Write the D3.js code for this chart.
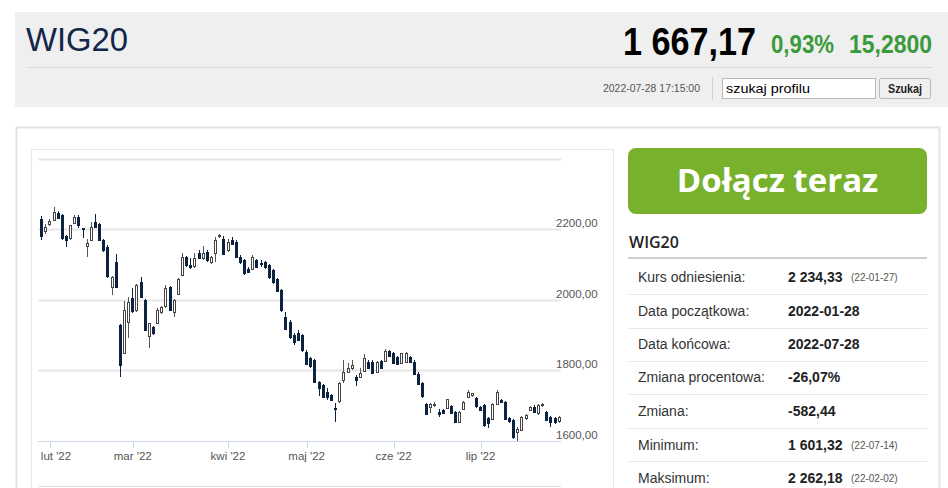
<!DOCTYPE html>
<html><head><meta charset="utf-8">
<script src="https://cdn.jsdelivr.net/npm/d3@7"></script>
<style>
html,body{margin:0;padding:0;background:#fff;}
svg{display:block;font-family:"Liberation Sans",Arial,sans-serif;}
</style></head>
<body><svg id="c" width="948" height="488"></svg>
<script>
const dates = [
"2022-01-28","2022-01-31",
"2022-02-01","2022-02-02","2022-02-03","2022-02-04","2022-02-07","2022-02-08","2022-02-09","2022-02-10","2022-02-11","2022-02-14","2022-02-15","2022-02-16","2022-02-17","2022-02-18","2022-02-21","2022-02-22","2022-02-23","2022-02-24","2022-02-25","2022-02-28",
"2022-03-01","2022-03-02","2022-03-03","2022-03-04","2022-03-07","2022-03-08","2022-03-09","2022-03-10","2022-03-11","2022-03-14","2022-03-15","2022-03-16","2022-03-17","2022-03-18","2022-03-21","2022-03-22","2022-03-23","2022-03-24","2022-03-25","2022-03-28","2022-03-29","2022-03-30","2022-03-31",
"2022-04-01","2022-04-04","2022-04-05","2022-04-06","2022-04-07","2022-04-08","2022-04-11","2022-04-12","2022-04-13","2022-04-14","2022-04-19","2022-04-20","2022-04-21","2022-04-22","2022-04-25","2022-04-26","2022-04-27","2022-04-28","2022-04-29",
"2022-05-02","2022-05-04","2022-05-05","2022-05-06","2022-05-09","2022-05-10","2022-05-11","2022-05-12","2022-05-13","2022-05-16","2022-05-17","2022-05-18","2022-05-19","2022-05-20","2022-05-23","2022-05-24","2022-05-25","2022-05-26","2022-05-27","2022-05-30","2022-05-31",
"2022-06-01","2022-06-02","2022-06-03","2022-06-06","2022-06-07","2022-06-08","2022-06-09","2022-06-10","2022-06-13","2022-06-14","2022-06-15","2022-06-17","2022-06-20","2022-06-21","2022-06-22","2022-06-23","2022-06-24","2022-06-27","2022-06-28","2022-06-29","2022-06-30",
"2022-07-01","2022-07-04","2022-07-05","2022-07-06","2022-07-07","2022-07-08","2022-07-11","2022-07-12","2022-07-13","2022-07-14","2022-07-15","2022-07-18","2022-07-19","2022-07-20","2022-07-21","2022-07-22","2022-07-25","2022-07-26","2022-07-27","2022-07-28"];

const open = [2230,2195,2214,2227,2246,2239,2180,2173,2216,2233,2202,2152,2169,2220,2214,2169,2148,2037,2107,1928,1848,1937,
2004,1971,2051,1999,1895,1923,1933,1966,1980,2037,1966,2018,2070,2120,2098,2093,2131,2117,2136,2107,2131,2180,2173,
2140,2169,2164,2122,2112,2088,2088,2112,2105,2107,2098,2084,2060,2027,1952,1938,1900,1905,1900,
1853,1834,1829,1768,1758,1740,1730,1693,1711,1773,1796,1806,1782,1782,1796,1824,1824,1796,1827,1827,1856,
1848,1839,1820,1824,1839,1825,1791,1763,1706,1697,1702,1683,1688,1692,1699,1683,1655,1692,1725,1730,1721,
1697,1702,1664,1664,1706,1716,1711,1664,1659,1625,1631,1664,1688,1697,1678,1700,1683,1669,1664,1655];
const high = [2236,2215,2228,2262.18,2250,2242,2183,2213,2240,2240,2203,2173,2220,2244,2218,2172,2155,2066,2129,1930,1997,2007,
2032,2045,2065,2002,1935,1925,1976,1983,2041,2040,2002,2062,2133,2125,2117,2131,2140,2152,2140,2125,2178,2187,2180,
2173,2178,2168,2126,2115,2092,2126,2116,2112,2110,2101,2088,2063,2030,1966,1942,1905,1914,1903,
1857,1838,1832,1770,1762,1749,1734,1707,1768,1829,1820,1829,1787,1806,1845,1828,1828,1827,1830,1860,1859,
1851,1842,1850,1853,1842,1829,1794,1766,1709,1708,1711,1692,1692,1720,1702,1686,1686,1713,1744,1737,1724,
1700,1705,1667,1708,1744,1720,1714,1667,1662,1640,1672,1676,1700,1703,1704,1708,1686,1672,1667,1670];
const low = [2169,2187,2210,2222,2228,2170,2150,2170,2214,2202,2176,2122,2167,2203,2165,2136,2062,2013,2035,1782,1845,1891,
1962,1965,2005,1912,1862,1900,1930,1960,1978,1968,1952,2015,2068,2093,2088,2090,2115,2112,2108,2102,2107,2175,2128,
2136,2155,2118,2100,2070,2075,2084,2090,2093,2088,2060,2046,2022,1966,1915,1890,1872,1882,1852,
1815,1806,1765,1728,1722,1716,1712,1655,1708,1763,1792,1800,1756,1778,1794,1803,1790,1793,1805,1825,1840,
1817,1817,1818,1822,1821,1788,1760,1722,1675,1678,1695,1669,1677,1690,1677,1652,1652,1690,1722,1725,1694,
1687,1640,1636,1661,1703,1708,1661,1650,1606,1601.32,1628,1660,1685,1680,1675,1697,1656,1640,1648,1650];
const close = [2183,2206,2223,2249,2233,2173,2169,2211,2233,2211,2200,2161,2206,2206,2170,2140,2065,2065,2037,1815,1971,1994,
1966,2041,2008,1914,1933,1905,1971,1980,2032,1971,1999,2060,2122,2098,2091,2117,2117,2131,2112,2122,2169,2182,2131,
2164,2159,2122,2107,2074,2079,2122,2093,2101,2093,2065,2051,2027,1971,1919,1895,1881,1886,1857,
1820,1810,1768,1750,1725,1725,1716,1691,1763,1796,1806,1815,1774,1792,1834,1806,1793,1824,1808,1856,1843,
1820,1820,1848,1850,1824,1791,1763,1725,1678,1706,1706,1676,1680,1718,1680,1655,1683,1711,1739,1735,1697,
1689,1645,1650,1706,1739,1711,1664,1655,1612,1634,1669,1673,1697,1683,1702,1704,1659,1655,1651.89,1667.17];

const gridValues = [1600,1800,2000,2200,2400];
const labelValues = [1600,1800,2000,2200];
const monthTickDates = ["2022-02-01","2022-03-01","2022-04-01","2022-05-02","2022-06-01","2022-07-01"];
const monthLabels = ["lut '22","mar '22","kwi '22","maj '22","cze '22","lip '22"];

const infoLabels = ["Kurs odniesienia:","Data początkowa:","Data końcowa:","Zmiana procentowa:","Zmiana:","Minimum:","Maksimum:"];
const infoValues = ["2 234,33","2022-01-28","2022-07-28","-26,07%","-582,44","1 601,32","2 262,18"];
const infoDates = ["(22-01-27)","","","","","(22-07-14)","(22-02-02)"];

const svg = d3.select("#c");

function fit(sel, len) { return sel.attr("textLength", len).attr("lengthAdjust", "spacingAndGlyphs"); }

// ---------- header ----------
svg.append("rect").attr("x",15).attr("y",12).attr("width",933).attr("height",95).attr("fill","#efefef");
fit(svg.append("text").attr("x",26).attr("y",51).attr("font-size",33).attr("fill","#13264a").text("WIG20"), 102);
fit(svg.append("text").attr("x",623).attr("y",55).attr("font-size",38).attr("font-weight","bold").attr("fill","#000").text("1 667,17"), 133);
fit(svg.append("text").attr("x",771).attr("y",53).attr("font-size",25).attr("font-weight","bold").attr("fill","#3a9a3c").text("0,93%"), 63);
fit(svg.append("text").attr("x",849).attr("y",53).attr("font-size",25).attr("font-weight","bold").attr("fill","#3a9a3c").text("15,2800"), 83);
svg.append("line").attr("x1",27).attr("x2",932).attr("y1",67.5).attr("y2",67.5).attr("stroke","#d6d6d6");
fit(svg.append("text").attr("x",603).attr("y",92).attr("font-size",11.5).attr("fill","#555").text("2022-07-28 17:15:00"), 97);
svg.append("line").attr("x1",712.5).attr("x2",712.5).attr("y1",77).attr("y2",100).attr("stroke","#d0d0d0");
svg.append("rect").attr("x",722.5).attr("y",78.5).attr("width",153).attr("height",20).attr("fill","#fff").attr("stroke","#b8b8b8");
fit(svg.append("text").attr("x",726).attr("y",92.5).attr("font-size",13).attr("fill","#000").text("szukaj profilu"), 84);
svg.append("rect").attr("x",879.5).attr("y",78.5).attr("width",51).attr("height",20).attr("rx",2).attr("fill","#f0f0f0").attr("stroke","#b8b8b8");
fit(svg.append("text").attr("x",888).attr("y",93).attr("font-size",13).attr("font-weight","bold").attr("fill","#222").text("Szukaj"), 34);

// ---------- panels ----------
svg.append("rect").attr("x",16.5).attr("y",127.5).attr("width",923).attr("height",420).attr("fill","#fff").attr("stroke","#e3e3e3").attr("stroke-width",2);
svg.append("rect").attr("x",31.5).attr("y",149.5).attr("width",582).attr("height",400).attr("fill","#fff").attr("stroke","#e8e8e8");

// ---------- chart ----------
const x = d3.scalePoint().domain(dates).range([41.7, 559.2]);
const y = d3.scaleLinear().domain([1600, 2400]).range([441, 158.5]);
const gx1 = 38, gx2 = 561;

const g = svg.append("g");
g.selectAll("line.grid").data(gridValues.filter(v => v !== 1600)).join("line")
  .attr("x1", gx1).attr("x2", gx2)
  .attr("y1", d => Math.round(y(d)) + 0.5).attr("y2", d => Math.round(y(d)) + 0.5)
  .attr("stroke", "#e6e6e6").attr("stroke-width", 2);
g.selectAll("text.ylab").data(labelValues).join("text")
  .attr("x", 556).attr("y", d => y(d) - 2)
  .attr("font-size", 11.5).attr("fill", "#555")
  .text(d => d3.format(".2f")(d).replace(".", ","));

// x axis
g.append("line").attr("x1", gx1).attr("x2", gx2).attr("y1", 441.5).attr("y2", 441.5).attr("stroke", "#ccd6eb");
g.selectAll("line.xt").data(monthTickDates).join("line")
  .attr("x1", d => Math.round(x(d)) + 0.5).attr("x2", d => Math.round(x(d)) + 0.5)
  .attr("y1", 441).attr("y2", 448).attr("stroke", "#ccd6eb");
g.selectAll("text.xl").data(monthTickDates).join("text")
  .attr("x", (d, i) => Math.max(x(d), 56))
  .attr("y", 460).attr("text-anchor", "middle")
  .attr("font-size", 11.5).attr("fill", "#555")
  .text((d, i) => monthLabels[i]);
g.append("line").attr("x1", gx1).attr("x2", gx2).attr("y1", 486.5).attr("y2", 486.5).attr("stroke", "#dedede");

// candles
const idx = d3.range(dates.length);
const cg = g.append("g").attr("shape-rendering", "crispEdges");
cg.selectAll("line.wick").data(idx).join("line")
  .attr("x1", i => Math.floor(x(dates[i])) + 0.5).attr("x2", i => Math.floor(x(dates[i])) + 0.5)
  .attr("y1", i => y(high[i])).attr("y2", i => y(low[i]))
  .attr("stroke", i => close[i] >= open[i] ? "#555" : "#0c2241");
cg.selectAll("rect.body").data(idx).join("rect")
  .attr("x", i => Math.floor(x(dates[i])) - 1 + 0.5)
  .attr("width", 2)
  .attr("y", i => Math.round(y(Math.max(open[i], close[i]))) + 0.5)
  .attr("height", i => Math.max(1, Math.round(Math.abs(y(open[i]) - y(close[i])))))
  .attr("fill", i => close[i] >= open[i] ? "#fff" : "#0c2241")
  .attr("stroke", i => close[i] >= open[i] ? "#444" : "#0c2241");

// ---------- sidebar ----------
svg.append("rect").attr("x",628).attr("y",148).attr("width",299).attr("height",66).attr("rx",8).attr("fill","#78b22d");
svg.append("text").attr("x",777.5).attr("y",192).attr("text-anchor","middle")
  .attr("font-family","'Open Sans',sans-serif").attr("font-weight","bold").attr("font-size",33).attr("fill","#fff").text("Dołącz teraz");
svg.append("text").attr("x",629).attr("y",248).attr("font-family","'Open Sans',sans-serif").attr("font-weight",600).attr("font-size",16).attr("fill","#222").text("WIG20");
svg.append("line").attr("x1",628).attr("x2",927).attr("y1",258).attr("y2",258).attr("stroke","#cfcfcf").attr("stroke-width",2);

const rowY = [277, 311, 344, 377, 411, 445, 478];
const sepY = [294, 327.5, 361, 394, 427.5, 461];
svg.selectAll("line.sep").data(sepY).join("line")
  .attr("x1",628).attr("x2",927).attr("y1",d=>Math.round(d)+0.5).attr("y2",d=>Math.round(d)+0.5).attr("stroke","#e8e8e8");
svg.selectAll("text.il").data(infoLabels).join("text")
  .attr("x",638).attr("y",(d,i)=>rowY[i]+5).attr("font-size",14).attr("fill","#333").text(d=>d);
svg.selectAll("text.iv").data(infoValues).join("text")
  .attr("x",788).attr("y",(d,i)=>rowY[i]+5).attr("font-size",14).attr("font-weight","bold").attr("fill","#222").text(d=>d);
svg.selectAll("text.id").data(infoDates).join("text")
  .attr("x",851).attr("y",(d,i)=>rowY[i]+4).attr("font-size",10).attr("fill","#555").text(d=>d);
</script></body></html>
